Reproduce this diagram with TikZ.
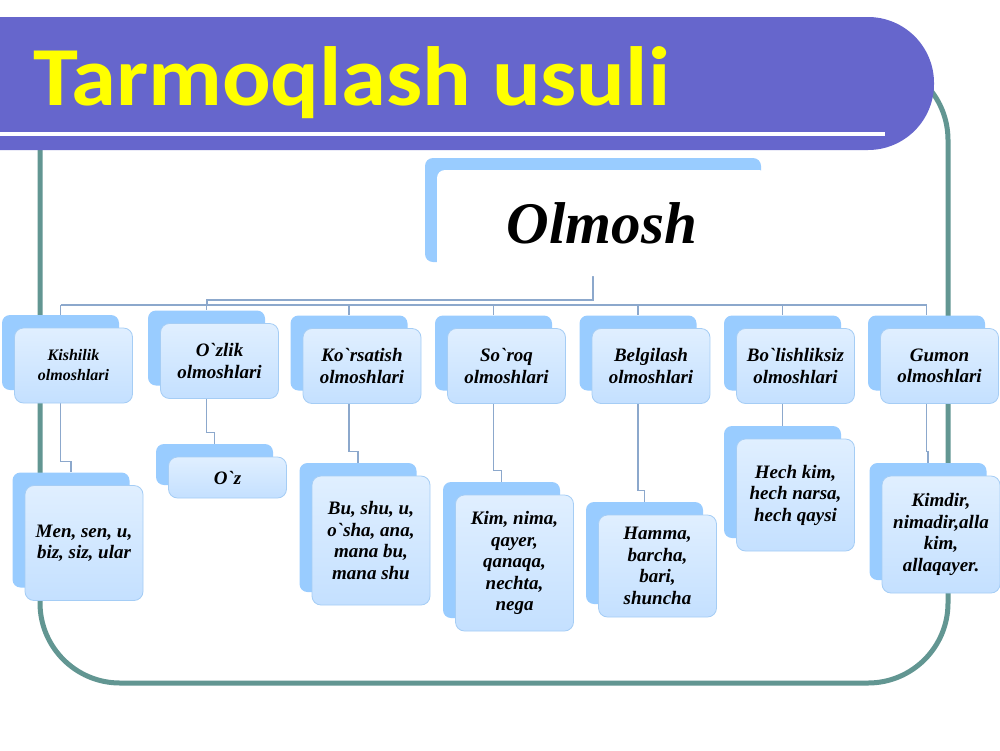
\documentclass[tikz,border=0pt]{standalone}
\usepackage{fontspec}
\newfontfamily\tnr{Liberation Serif}
\newfontfamily\ttlfont{Carlito}[FakeStretch=1.08]
\usetikzlibrary{calc,backgrounds}
\definecolor{bannerc}{RGB}{102,102,204}
\definecolor{framec}{RGB}{98,150,146}
\definecolor{backblue}{RGB}{153,204,255}
\definecolor{fronttop}{RGB}{224,239,255}
\definecolor{frontbot}{RGB}{196,224,255}
\definecolor{frontedge}{RGB}{165,205,245}
\definecolor{connc}{RGB}{140,168,204}
\definecolor{ttlc}{RGB}{255,255,0}
\newcommand\boxpair[6][]{%
  \node[backbox, minimum height=#5pt] (#2b) at (#3,#4) {};
  \node[frontbox, minimum height=#5pt, #1] (#2) at (#3+13,#4+13) {#6};}
\begin{document}
\begin{tikzpicture}[x=1pt,y=-1pt,
  backbox/.style={draw=none, fill=backblue, rounded corners=8pt, minimum width=117pt, inner sep=0pt},
  frontbox/.style={draw=frontedge, line width=0.8pt, top color=fronttop, bottom color=frontbot,
    rounded corners=9pt, minimum width=118pt, inner sep=0pt, align=center,
    font=\tnr\bfseries\itshape\fontsize{19}{21.5}\selectfont},
  smalltext/.style={font=\tnr\bfseries\itshape\fontsize{16}{20}\selectfont},
  conn/.style={draw=connc, line width=1.2pt},
  rootconn/.style={draw=connc, line width=2pt}]
\useasboundingbox (0,0) rectangle (1000,750);
\begin{scope}[on background layer]
  \fill[white] (0,0) rectangle (1000,750);
\end{scope}
% frame
\draw[framec, line width=5pt, rounded corners=80pt] (40,60) rectangle (948,683);
% banner
\fill[bannerc, rounded corners=66pt] (-200,17) rectangle (934,150);
\fill[white] (-10,131.5) rectangle (885,135.5);
\node[anchor=base west, text=ttlc, font=\ttlfont\bfseries\fontsize{84}{84}\selectfont, inner sep=0pt] (title) at (33,105) {Tarmoqlash usuli};
% root
\node[fill=backblue, rounded corners=8pt, minimum width=336pt, minimum height=104pt, inner sep=0pt] (olmb) at (593,210) {};
\node[fill=white, rounded corners=8pt, minimum width=330pt, minimum height=106pt, inner sep=0pt,
  font=\tnr\bfseries\itshape\fontsize{59}{59}\selectfont] (olm) at (602,223) {Olmosh};
% level 1
\boxpair[smalltext]{L1}{60.5}{352.5}{75}{Kishilik\\olmoshlari}
\boxpair{L2}{206.5}{348}{75}{O`zlik\\olmoshlari}
\boxpair{L3}{349}{353}{75}{Ko`rsatish\\olmoshlari}
\boxpair{L4}{493.5}{353}{75}{So`roq\\olmoshlari}
\boxpair{L5}{638}{353}{75}{Belgilash\\olmoshlari}
\boxpair{L6}{782.5}{353}{75}{Bo`lishliksiz\\olmoshlari}
\boxpair{L7}{926.5}{353}{75}{Gumon\\olmoshlari}
% level 2
\boxpair{C1}{71}{530}{115}{Men, sen, u,\\biz, siz, ular}
\boxpair{C2}{214.5}{464.5}{41}{O`z}
\boxpair{C3}{358}{527.5}{129}{Bu, shu, u,\\o`sha, ana,\\mana bu,\\mana shu}
\boxpair{C4}{501.5}{550}{136}{Kim, nima,\\qayer,\\qanaqa,\\nechta,\\nega}
\boxpair{C5}{644.5}{553}{102}{Hamma,\\barcha,\\bari,\\shuncha}
\boxpair{C6}{782.5}{482}{112}{Hech kim,\\hech narsa,\\hech qaysi}
\boxpair{C7}{928}{521.5}{117}{Kimdir,\\nimadir,alla\\kim,\\allaqayer.}
% connectors
\begin{scope}[on background layer]
  \coordinate (bus) at (0,305);
  \draw[rootconn] (olmb.south) -- (olmb.south |- 0,300) -| (L2b.north |- bus);
  \draw[conn] (L1b.north |- bus) -- (L7b.north |- bus);
  \foreach \i in {1,...,7} {
    \draw[conn] (L\i b.north |- bus) -- (L\i b.north);
    \draw[conn] (L\i b |- L\i.south) |- ([yshift=11pt]C\i b.north) -- (C\i b.north);
  }
\end{scope}
\end{tikzpicture}
\end{document}
